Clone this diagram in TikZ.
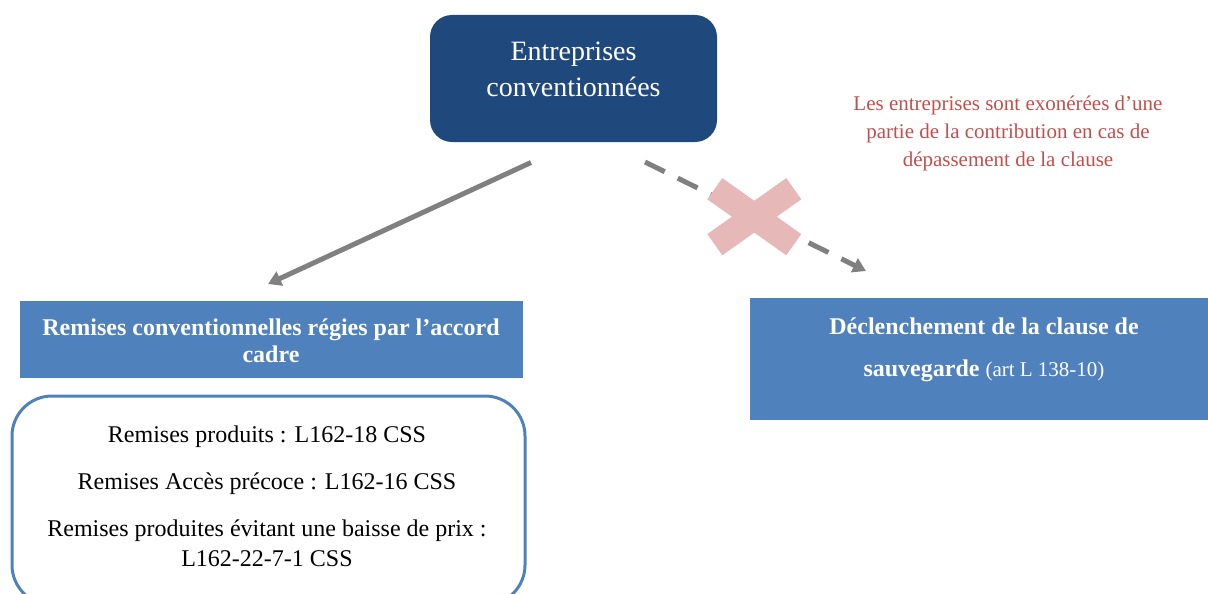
\documentclass[tikz,border=0pt]{standalone}
\usepackage{fontspec}
\setmainfont{Liberation Serif}
\usetikzlibrary{arrows.meta}
\definecolor{entblue}{RGB}{31,73,125}
\definecolor{hdrblue}{RGB}{79,129,189}
\definecolor{notered}{RGB}{192,80,77}
\definecolor{crosspink}{RGB}{230,185,184}
\definecolor{arrowgray}{RGB}{128,128,128}
\begin{document}
\begin{tikzpicture}[x=1pt,y=-1pt,
        entbox/.style={rectangle,rounded corners=22pt,fill=entblue,minimum width=287pt,minimum height=127pt,inner sep=0pt},
        hdrbox/.style={rectangle,fill=hdrblue,inner sep=0pt},
        listbox/.style={rectangle,rounded corners=40pt,draw=hdrblue,line width=3pt,minimum width=513pt,minimum height=209pt,inner sep=0pt},
        boxtext/.style={align=center,inner sep=0pt},
        link/.style={draw=arrowgray,line width=5pt,-{Triangle[length=13pt,width=15pt]}},
        crossbar/.style={draw=crosspink,line width=26pt}
      ]
      \useasboundingbox (0,0) rectangle (1208,594);
      \node[entbox] (ent) at (573.5,78.5) {};
      \node[boxtext,text=white,font=\fontsize{28}{36}\selectfont] (enttxt) at (573.5,69.5) {Entreprises\\conventionnées};
      \node[hdrbox,minimum width=503pt,minimum height=77pt] (accord) at (271.5,339.5) {};
      \node[boxtext,text=white,font=\bfseries\fontsize{24}{27}\selectfont] (accordtxt) at (271,340.5) {Remises conventionnelles régies par l’accord\\cadre};
      \node[listbox] (remises) at (268.5,500.5) {};
      \node[boxtext,font=\fontsize{24}{30}\selectfont] (remisestxt) at (267,496) {Remises produits : L162-18 CSS\\[17pt]Remises Accès précoce : L162-16 CSS\\[17pt]Remises produites évitant une baisse de prix :\\L162-22-7-1 CSS};
      \node[hdrbox,minimum width=458pt,minimum height=122pt] (clause) at (979,359) {};
      \node[boxtext,text=white,font=\fontsize{24}{42}\selectfont] (clausetxt) at (984,349.5) {\textbf{Déclenchement de la clause de}\\\textbf{sauvegarde} {\fontsize{21}{42}\selectfont(art L 138-10)}};
      \node[boxtext,text=notered,font=\fontsize{21}{28}\selectfont] (note) at (1008,133) {Les entreprises sont exonérées d’une\\partie de la contribution en cas de\\dépassement de la clause};
      \coordinate (solidstart) at (531,162.5);
      \coordinate (solidend) at (268,284);
      \coordinate (dashstart) at (645,162);
      \coordinate (dashend) at (866,271);
      \coordinate (cross) at (754.3,216.7);
      \draw[link] (solidstart) -- (solidend);
      \draw[link,dash pattern=on 22pt off 14.5pt] (dashstart) -- (dashend);
      \draw[crossbar] ([shift={(-39.5,-28)}]cross) -- ([shift={(39.5,28)}]cross);
      \draw[crossbar] ([shift={(-39.5,28)}]cross) -- ([shift={(39.5,-28)}]cross);
    \end{tikzpicture}
\end{document}
